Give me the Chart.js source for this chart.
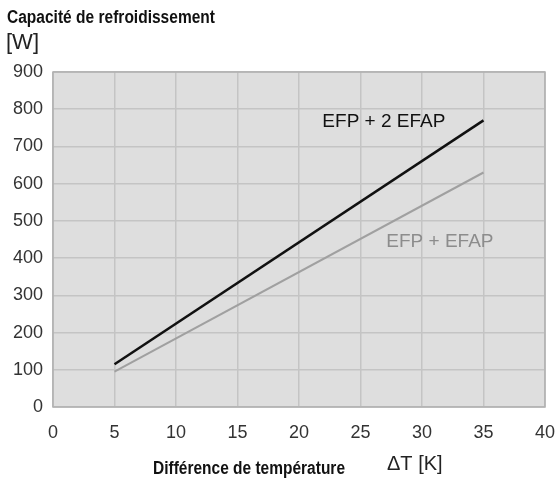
<!DOCTYPE html>
<html>
<head>
<meta charset="utf-8">
<script src="https://cdn.jsdelivr.net/npm/chart.js@4/dist/chart.umd.min.js"></script>
<style>
  html, body { margin: 0; padding: 0; background: #fff; }
  #wrap { width: 559px; height: 485px; position: relative; }
</style>
</head>
<body>
<div id="wrap"><canvas id="chart"></canvas></div>
<script>
// values
const deltaT = [5, 35];
const efp2Efap = [115, 770];
const efpEfap = [95, 630];
const seriesNames = ["EFP + 2 EFAP", "EFP + EFAP"];
const xTicks = [0, 5, 10, 15, 20, 25, 30, 35, 40];
const yTicks = [0, 100, 200, 300, 400, 500, 600, 700, 800, 900];

// narrow bold text: squeeze a normal font to the wanted width
function narrowText(ctx, text, x, y, width) {
  const w = ctx.measureText(text).width;
  ctx.save();
  ctx.translate(x, y);
  ctx.scale(width / w, 1);
  ctx.fillText(text, 0, 0);
  ctx.restore();
}

const plotBg = {
  id: "plotBg",
  beforeDraw(chart) {
    const { ctx, chartArea: a } = chart;
    ctx.save();
    ctx.fillStyle = "#dedede";
    ctx.fillRect(a.left, a.top, a.right - a.left, a.bottom - a.top);
    ctx.restore();
  },
  afterDraw(chart) {
    const { ctx, chartArea: a, scales } = chart;
    ctx.save();
    ctx.strokeStyle = "#b0b0b0";
    ctx.lineWidth = 1.5;
    ctx.strokeRect(a.left, a.top, a.right - a.left, a.bottom - a.top);

    // series labels
    ctx.font = "19px 'Liberation Sans', Arial, sans-serif";
    ctx.textBaseline = "middle";
    ctx.textAlign = "left";
    ctx.fillStyle = "#111";
    ctx.fillText(seriesNames[0], scales.x.getPixelForValue(21.9), scales.y.getPixelForValue(766));
    ctx.fillStyle = "#8c8c8c";
    ctx.fillText(seriesNames[1], scales.x.getPixelForValue(27.1), scales.y.getPixelForValue(445));

    // titles
    ctx.fillStyle = "#111";
    ctx.textBaseline = "alphabetic";
    ctx.font = "bold 18px 'Liberation Sans', Arial, sans-serif";
    narrowText(ctx, "Capacité de refroidissement", 7, 23, 208);
    narrowText(ctx, "Différence de température", 153, 474, 192);
    ctx.textBaseline = "middle";
    ctx.font = "22px 'Liberation Sans', Arial, sans-serif";
    ctx.fillStyle = "#222";
    ctx.fillText("[W]", 6, 43);
    ctx.font = "20px 'Liberation Sans', Arial, sans-serif";
    ctx.fillText("\u0394T [K]", 387, 464);
    ctx.restore();
  }
};

new Chart(document.getElementById("chart"), {
  type: "scatter",
  data: {
    datasets: [
      {
        label: seriesNames[0],
        data: deltaT.map((x, i) => ({ x: x, y: efp2Efap[i] })),
        showLine: true,
        borderColor: "#111",
        borderWidth: 2.5,
        pointRadius: 0
      },
      {
        label: seriesNames[1],
        data: deltaT.map((x, i) => ({ x: x, y: efpEfap[i] })),
        showLine: true,
        borderColor: "#a0a0a0",
        borderWidth: 2,
        pointRadius: 0
      }
    ]
  },
  options: {
    responsive: true,
    maintainAspectRatio: false,
    animation: false,
    layout: { padding: { left: 0, top: 72, right: 14, bottom: 0 } },
    plugins: { legend: { display: false }, tooltip: { enabled: false } },
    scales: {
      x: {
        type: "linear",
        min: 0,
        max: 40,
        afterBuildTicks: (s) => { s.ticks = xTicks.map(v => ({ value: v })); },
        afterFit: (s) => { s.height = 78; s.paddingLeft = 0; s.paddingRight = 0; },
        grid: { color: "#c4c4c4", lineWidth: 1.5, drawTicks: false },
        border: { display: false },
        ticks: {
          color: "#333",
          padding: 15,
          font: { family: "'Liberation Sans', Arial, sans-serif", size: 18 }
        }
      },
      y: {
        min: 0,
        max: 900,
        afterBuildTicks: (s) => { s.ticks = yTicks.map(v => ({ value: v })); },
        afterFit: (s) => { s.width = 53; s.paddingTop = 0; s.paddingBottom = 0; },
        grid: { color: "#c4c4c4", lineWidth: 1.5, drawTicks: false },
        border: { display: false },
        ticks: {
          color: "#333",
          padding: 10,
          font: { family: "'Liberation Sans', Arial, sans-serif", size: 18 }
        }
      }
    }
  },
  plugins: [plotBg]
});
</script>
</body>
</html>
